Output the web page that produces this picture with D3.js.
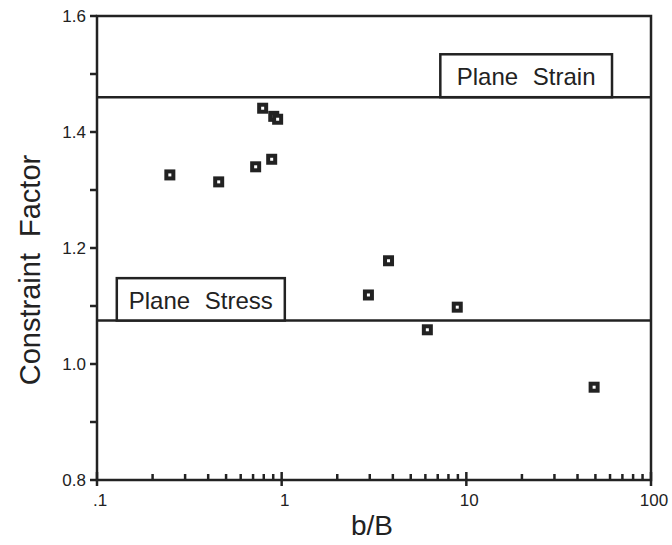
<!DOCTYPE html>
<html>
<head>
<meta charset="utf-8">
<script src="https://cdn.jsdelivr.net/npm/d3@7"></script>
<style>
  body { margin: 0; background: #fff; overflow: hidden; }
  svg { display: block; }
  text { font-family: "Liberation Sans", Arial, sans-serif; fill: #222; }
</style>
</head>
<body>
<div id="chart"></div>
<script>
// b/B ratio vs constraint factor
const ratios = [0.248, 0.456, 0.723, 0.883, 0.789, 0.906, 0.951, 3.79, 2.95, 8.93, 6.15, 49.2];
const factors = [1.326, 1.314, 1.340, 1.353, 1.441, 1.427, 1.422, 1.178, 1.119, 1.098, 1.059, 0.960];

const yTicks = [0.8, 1.0, 1.2, 1.4, 1.6];
const yMinorTicks = [0.9, 1.1, 1.3, 1.5];
const xTicks = [0.1, 1, 10, 100];
const xTickLabels = [".1", "1", "10", "100"];

// limit lines and their labels
const limitNames = ["Plane Strain", "Plane Stress"];
const limitValues = [1.46, 1.075];
const labelBoxX = [[7.23, 61.5], [0.128, 1.04]];
const labelBoxTop = [1.534, 1.148];

const width = 672;
const height = 545;
const margin = {left: 97, right: 21, top: 16, bottom: 65};
const innerWidth = width - margin.left - margin.right;
const innerHeight = height - margin.top - margin.bottom;
const ink = "#222";
const lw = 2.5;

const svg = d3.select("#chart")
    .append("svg")
    .attr("width", width)
    .attr("height", height);

const g = svg.append("g")
    .attr("transform", `translate(${margin.left},${margin.top})`);

const x = d3.scaleLog()
    .domain([0.1, 100])
    .range([0, innerWidth]);

const y = d3.scaleLinear()
    .domain([0.8, 1.6])
    .range([innerHeight, 0]);

// Frame
g.append("rect")
    .attr("width", innerWidth)
    .attr("height", innerHeight)
    .attr("fill", "none")
    .attr("stroke", ink)
    .attr("stroke-width", lw);

// Y ticks (outward)
g.selectAll(".ytick")
    .data(yTicks.concat(yMinorTicks))
    .enter().append("line")
    .attr("x1", -7)
    .attr("x2", 0)
    .attr("y1", d => y(d))
    .attr("y2", d => y(d))
    .attr("stroke", ink)
    .attr("stroke-width", lw);

g.selectAll(".ylabel")
    .data(yTicks)
    .enter().append("text")
    .attr("x", -11)
    .attr("y", d => y(d))
    .attr("dy", "0.35em")
    .style("text-anchor", "end")
    .style("font-size", "17px")
    .text(d => d.toFixed(1));

// X ticks: minor inward, major crossing
const minor = [];
for (let dec = 0.1; dec < 100; dec *= 10) {
    for (let k = 2; k <= 9; k++) minor.push(dec * k);
}
g.selectAll(".xminor")
    .data(minor)
    .enter().append("line")
    .attr("x1", d => x(d))
    .attr("x2", d => x(d))
    .attr("y1", innerHeight)
    .attr("y2", innerHeight - 6)
    .attr("stroke", ink)
    .attr("stroke-width", lw);

g.selectAll(".xmajor")
    .data(xTicks)
    .enter().append("line")
    .attr("x1", d => x(d))
    .attr("x2", d => x(d))
    .attr("y1", innerHeight + 6)
    .attr("y2", innerHeight - 8)
    .attr("stroke", ink)
    .attr("stroke-width", lw);

g.selectAll(".xlabel")
    .data(xTicks)
    .enter().append("text")
    .attr("x", d => x(d) + 3)
    .attr("y", innerHeight + 26)
    .style("text-anchor", "middle")
    .style("font-size", "17px")
    .text((d, i) => xTickLabels[i]);

// Limit lines with boxed labels
limitValues.forEach((v, i) => {
    g.append("line")
        .attr("x1", 0)
        .attr("x2", innerWidth)
        .attr("y1", y(v))
        .attr("y2", y(v))
        .attr("stroke", ink)
        .attr("stroke-width", lw);

    const bx0 = x(labelBoxX[i][0]);
    const bx1 = x(labelBoxX[i][1]);
    const by0 = y(labelBoxTop[i]);
    g.append("rect")
        .attr("x", bx0)
        .attr("y", by0)
        .attr("width", bx1 - bx0)
        .attr("height", y(v) - by0)
        .attr("fill", "#fff")
        .attr("stroke", ink)
        .attr("stroke-width", lw);

    g.append("text")
        .attr("x", (bx0 + bx1) / 2)
        .attr("y", (by0 + y(v)) / 2 + 1)
        .attr("dy", "0.36em")
        .style("text-anchor", "middle")
        .style("font-size", "24px")
        .style("word-spacing", "8px")
        .text(limitNames[i]);
});

// Points: dark square with small white centre
const pts = g.selectAll(".pt")
    .data(ratios.map((r, i) => [r, factors[i]]))
    .enter().append("g")
    .attr("transform", d => `translate(${x(d[0])},${y(d[1])})`);

pts.append("rect")
    .attr("x", -5.5).attr("y", -5.5)
    .attr("width", 11).attr("height", 11)
    .attr("fill", ink);

pts.append("rect")
    .attr("x", -1.5).attr("y", -1.5)
    .attr("width", 3).attr("height", 3)
    .attr("fill", "#fff");

// Axis titles
svg.append("text")
    .attr("x", margin.left + innerWidth / 2 - 2)
    .attr("y", 535)
    .style("text-anchor", "middle")
    .style("font-size", "28px")
    .text("b/B");

svg.append("text")
    .attr("transform", "rotate(-90)")
    .attr("x", -270)
    .attr("y", 40)
    .style("text-anchor", "middle")
    .style("font-size", "29px")
    .style("word-spacing", "8px")
    .text("Constraint Factor");
</script>
</body>
</html>
